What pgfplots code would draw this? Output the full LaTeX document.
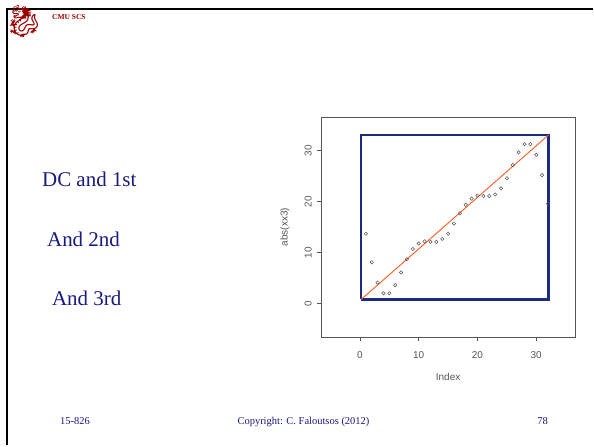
\documentclass[border=0pt]{standalone}
\usepackage{pgfplots}
\pgfplotsset{compat=1.18}
\usepackage{fontspec}
\setmainfont{Liberation Serif}
\setsansfont{Liberation Sans}
\newfontfamily\emojifont{Noto Emoji}
\definecolor{slidenavy}{HTML}{1A1A80}
\definecolor{boxnavy}{HTML}{1C2A80}
\definecolor{rgray}{HTML}{555555}
\definecolor{lineorange}{HTML}{FF5A1E}
\definecolor{cmured}{HTML}{990000}
\begin{document}
\begin{tikzpicture}[x=1pt,y=1pt]
% slide canvas
\fill[white] (0,0) rectangle (594,446);
\draw[black, line width=2pt] (7,0) -- (7,436.5) -- (594,436.5);
\node[text=cmured, font=\emojifont\fontsize{32}{32}\selectfont, inner sep=0pt] at (24,424) {🐉};
\node[anchor=base west, text=cmured, font=\fontsize{7.5}{8}\selectfont\bfseries, inner sep=0pt] at (52,426) {CMU SCS};
\node[anchor=base west, text=slidenavy, font=\fontsize{21}{24}\selectfont, inner sep=0pt] at (42,259) {DC and 1st};
\node[anchor=base west, text=slidenavy, font=\fontsize{21}{24}\selectfont, inner sep=0pt] at (47,199) {And 2nd};
\node[anchor=base west, text=slidenavy, font=\fontsize{21}{24}\selectfont, inner sep=0pt] at (52,140) {And 3rd};
\node[anchor=base west, text=slidenavy, font=\fontsize{10.5}{12}\selectfont, inner sep=0pt] at (60,21) {15-826};
\node[anchor=base, text=slidenavy, font=\fontsize{10.5}{12}\selectfont, inner sep=0pt] at (304,21) {Copyright: C. Faloutsos (2012)};
\node[anchor=base east, text=slidenavy, font=\fontsize{10.5}{12}\selectfont, inner sep=0pt] at (549,21) {78};
\begin{axis}[
  at={(321.7pt,108.3pt)}, anchor=south west,
  scale only axis, width=254.3pt, height=220.4pt,
  xmin=-6.6, xmax=36.6, ymin=-6.6, ymax=36.6,
  axis line style={rgray, line width=0.6pt},
  xtick={0,10,20,30}, ytick={0,10,20,30},
  tick align=outside, tick pos=left,
  major tick length=4pt,
  tick style={rgray, line width=0.6pt},
  /pgf/number format/assume math mode=true,
  ticklabel style={font=\sffamily\fontsize{10}{11}\selectfont, text=rgray},
  yticklabel style={rotate=90, anchor=south},
  yticklabel shift=2pt,
  xticklabel shift=7pt,
  xlabel={Index}, ylabel={abs(xx3)},
  label style={font=\sffamily\fontsize{10}{11}\selectfont, text=rgray},
  xlabel shift=8pt,
  ylabel shift=8pt,
  clip=false,
]
\addplot[draw=boxnavy, line width=2.5pt, line join=miter] coordinates {(0.2,0.8) (32.1,0.8) (32.1,33.1) (0.2,33.1) (0.2,0.8)};
\addplot[draw=lineorange, line width=0.9pt] coordinates {(0.2,0.8) (32.1,33.1)};
\addplot[only marks, mark=o, mark size=1.7pt, mark options={draw=rgray, line width=0.5pt}] coordinates {
(1,13.7) (2,8.1) (3,4.1) (4,2.0) (5,2.0) (6,3.6) (7,6.1) (8,8.7)
(9,10.7) (10,11.8) (11,12.2) (12,12.1) (13,12.1) (14,12.7) (15,13.7) (16,15.7)
(17,17.7) (18,19.4) (19,20.6) (20,21.2) (21,21.1) (22,21.1) (23,21.4) (24,22.6)
(25,24.6) (26,27.2) (27,29.7) (28,31.3) (29,31.3) (30,29.2) (31,25.2) (32,19.6)
};
\end{axis}
\end{tikzpicture}
\end{document}
